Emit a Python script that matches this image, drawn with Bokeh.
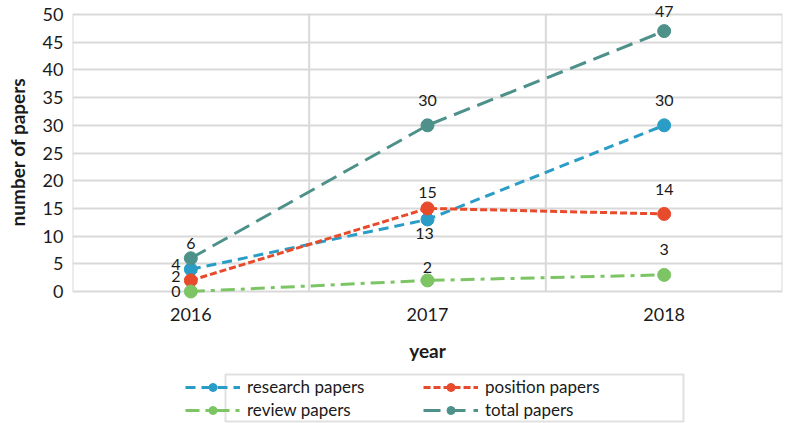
from bokeh.plotting import figure
from bokeh.layouts import column
from bokeh.models import (ColumnDataSource, FixedTicker, Legend, LegendItem, LabelSet,
                          Range1d, BoxAnnotation)
from bokeh.core.properties import value
from bokeh.embed import file_html
from bokeh.resources import INLINE

# ---- data ----
years = ["2016", "2017", "2018"]
research_papers = [4, 13, 30]
position_papers = [2, 15, 14]
review_papers = [0, 2, 3]
total_papers = [6, 30, 47]
y_ticks = [0, 5, 10, 15, 20, 25, 30, 35, 40, 45, 50]

FONT = "Lato"
TXT = "#1a1a1a"
GRID = "#d9d9d9"

xs = [i + 0.5 for i in range(len(years))]
x_bounds = list(range(len(years) + 1))

# plot region: y=50 sits 14px below the canvas top, y=0 sits 12px above the frame bottom,
# so data labels near the ends are not clipped
PLOT_PX = 277.0
units_per_px = (y_ticks[-1] - y_ticks[0]) / PLOT_PX
y_end = y_ticks[-1] + 14 * units_per_px
y_start = y_ticks[0] - 12 * units_per_px

p = figure(width=785, height=372, output_backend="svg", toolbar_location=None,
           x_range=Range1d(0, len(years)), y_range=Range1d(y_start, y_end),
           min_border_left=72, min_border_right=3, min_border_top=0, min_border_bottom=69)
p.outline_line_color = None
p.background_fill_color = "white"

# axes
p.xaxis.ticker = FixedTicker(ticks=xs)
p.xaxis.major_label_overrides = {x: y for x, y in zip(xs, years)}
p.yaxis.ticker = FixedTicker(ticks=y_ticks)
for ax in (p.xaxis[0], p.yaxis[0]):
    ax.axis_line_color = None
    ax.major_tick_line_color = None
    ax.minor_tick_line_color = None
    ax.major_tick_out = 0
    ax.major_tick_in = 0
    ax.minor_tick_out = 0
    ax.major_label_text_font = FONT
    ax.major_label_text_font_size = "18px"
    ax.major_label_text_color = TXT
    ax.axis_label_text_font = FONT
    ax.axis_label_text_font_style = "bold"
    ax.axis_label_text_font_size = "19px"
    ax.axis_label_text_color = TXT
p.xaxis.major_label_standoff = 4
p.yaxis.major_label_standoff = 9
p.xaxis.axis_label = "year"
p.yaxis.axis_label = "number of papers"
p.xaxis.axis_label_standoff = 15
p.yaxis.axis_label_standoff = 11

# grid: horizontal lines at the y ticks, vertical lines between categories (0..50 only)
p.xgrid.visible = False
p.ygrid.ticker = FixedTicker(ticks=y_ticks)
p.ygrid.grid_line_color = GRID
p.ygrid.grid_line_width = 2
p.segment(x0=x_bounds, x1=x_bounds, y0=[y_ticks[0]] * len(x_bounds),
          y1=[y_ticks[-1]] * len(x_bounds), line_color=GRID, line_width=2)

series = [
    ("research papers", research_papers, "#2a9dc6", "10 6"),
    ("position papers", position_papers, "#e84b2c", "7 3"),
    ("review papers", review_papers, "#7cc464", "14 6 4 6"),
    ("total papers", total_papers, "#4d918a", "17 8"),
]
# label placement offsets in pixels (dx, dy downward) per point
placement = {
    "research papers": ([-15, -3, 0], [-5, 14, -25]),
    "position papers": ([-15, 0, 0], [-4, -16, -24]),
    "review papers": ([-15, 0, 0], [0, -13, -25]),
    "total papers": ([0, 0, 0], [-15, -25, -20]),
}

# strip below the chart that holds only the legend (its renderers lie outside its view)
lf = figure(width=785, height=51, output_backend="svg", toolbar_location=None,
            x_range=Range1d(0, len(years)), y_range=Range1d(-200, -199),
            x_axis_type=None, y_axis_type=None,
            min_border_left=72, min_border_right=3, min_border_top=0, min_border_bottom=0)
lf.outline_line_color = None
lf.grid.visible = False

items = {}
for name, vals, color, dash in series:
    src = ColumnDataSource(dict(x=xs, y=vals, t=[str(v) for v in vals],
                                dx=placement[name][0], dy=[-d for d in placement[name][1]]))
    p.line("x", "y", source=src, line_color=color, line_width=3, line_dash=dash)
    p.scatter("x", "y", source=src, size=13, fill_color=color, line_color=color)
    lbl = LabelSet(x="x", y="y", text="t", source=src, x_offset="dx", y_offset="dy",
                   text_align="center", text_baseline="middle",
                   text_font=value(FONT), text_font_size="16px", text_color=TXT)
    p.add_layout(lbl)
    l1 = lf.line("x", "y", source=src, line_color=color, line_width=3, line_dash=dash)
    l2 = lf.scatter("x", "y", source=src, size=13, fill_color=color, line_color=color)
    items[name] = [l1, l2]

common = dict(orientation="vertical", label_text_font=FONT, label_text_font_size="17px",
              label_text_color=TXT, glyph_width=55, glyph_height=20, label_height=20,
              label_standoff=7, spacing=2, padding=0, margin=0,
              border_line_color=None, background_fill_alpha=0)
leg_a = Legend(items=[LegendItem(label=n, renderers=items[n])
                      for n in ["research papers", "review papers"]],
               location=(113, 3), **common)
leg_b = Legend(items=[LegendItem(label=n, renderers=items[n])
                      for n in ["position papers", "total papers"]],
               location=(351, 3), **common)
box = BoxAnnotation(left=153, right=611, top=2, bottom=49,
                    left_units="screen", right_units="screen",
                    top_units="screen", bottom_units="screen",
                    fill_alpha=0, line_color="#999999", line_width=2)
lf.add_layout(box)
lf.add_layout(leg_a, "center")
lf.add_layout(leg_b, "center")

layout = column(p, lf, spacing=0)
open("out.html", "w").write(file_html(layout, INLINE))
